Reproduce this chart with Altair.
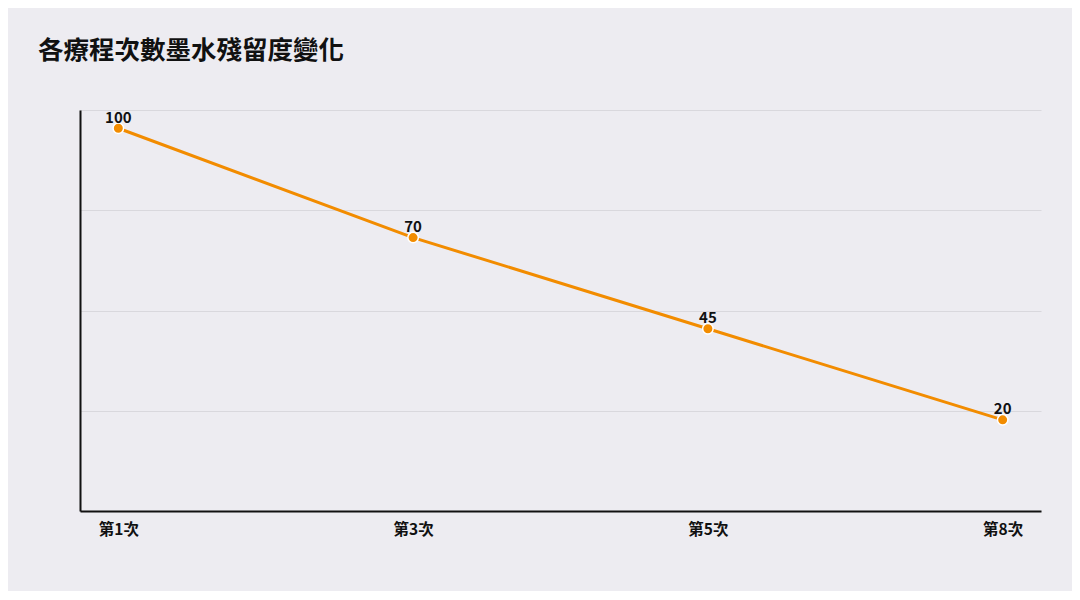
import altair as alt
import pandas as pd

sessions = ["第1次", "第3次", "第5次", "第8次"]
residue = [100, 70, 45, 20]

df = pd.DataFrame({"session": sessions, "residue": residue})

FONT = "Noto Sans CJK TC"
ORANGE = "#F28C00"

x = alt.X("session:N", sort=sessions, title=None,
          scale=alt.Scale(type="point", padding=0.13),
          axis=alt.Axis(labelAngle=0, labelFontSize=15.5, labelFontWeight="bold",
                        labelColor="#111111", labelFont=FONT, labelPadding=11,
                        ticks=False, domainColor="#111111", domainWidth=2, grid=False))
y = alt.Y("residue:Q", title=None,
          scale=alt.Scale(domain=[-5, 105], nice=False, zero=False),
          axis=alt.Axis(values=[-5, 22.5, 50, 77.5, 105], labels=False, ticks=False,
                        domainColor="#111111", domainWidth=2,
                        grid=True, gridColor="#D9D8DD", gridWidth=1))

base = alt.Chart(df).encode(x=x, y=y)

line = base.mark_line(color=ORANGE, strokeWidth=3)
pts = base.mark_point(filled=True, fill=ORANGE, stroke="white", strokeWidth=1.5,
                      size=110, opacity=1)
labels = base.mark_text(dy=-10.5, fontSize=15, fontWeight="bold", font=FONT,
                        color="#111111").encode(text="residue:Q")

chart = (line + pts + labels).properties(
    width=961, height=401,
    title=alt.TitleParams("各療程次數墨水殘留度變化", anchor="start", dx=-42, offset=46,
                          fontSize=25.5, fontWeight="bold", font=FONT, color="#111111"),
    background="#EDECF1",
    padding={"left": 72, "top": 102, "right": 31, "bottom": 80},
    autosize=alt.AutoSizeParams(type="none"),
).configure_view(stroke=None)

chart.save("out.html", embed_options={"renderer": "svg", "actions": False})
